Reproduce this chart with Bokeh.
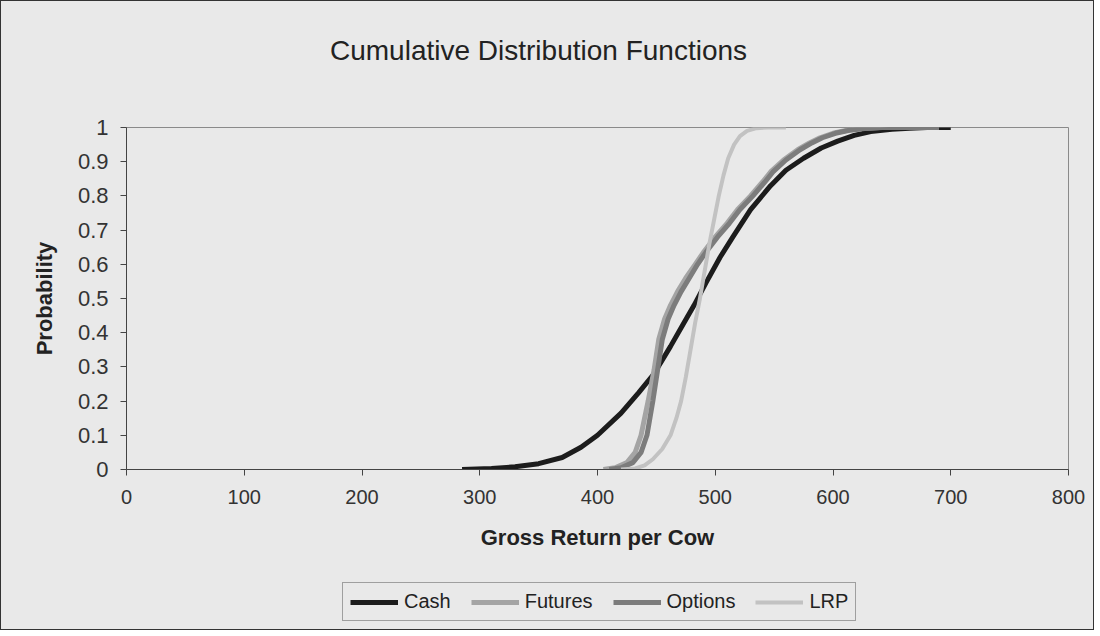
from bokeh.plotting import figure
from bokeh.layouts import column
from bokeh.models import Range1d, FixedTicker, CustomJSTickFormatter, Legend, LegendItem, Label
from bokeh.embed import file_html
from bokeh.resources import INLINE

# ---- data ----
cash_x = [285, 310, 330, 350, 370, 386, 400, 420, 435, 448, 462, 472, 482, 492, 504, 515, 530, 547, 560, 575, 590, 604, 618, 632, 650, 665, 680, 700]
cash_y = [0, 0.003, 0.008, 0.017, 0.035, 0.065, 0.1, 0.165, 0.225, 0.28, 0.36, 0.42, 0.48, 0.545, 0.62, 0.68, 0.76, 0.83, 0.875, 0.91, 0.94, 0.96, 0.977, 0.988, 0.995, 0.998, 1.0, 1.0]

futures_x = [405, 415, 425, 432, 437, 443, 448, 452, 457, 462, 468, 475, 483, 490, 500, 510, 519, 530, 540, 547, 558, 570, 580, 589, 600, 612, 625, 640, 660, 690]
futures_y = [0, 0.005, 0.02, 0.05, 0.1, 0.2, 0.29, 0.38, 0.44, 0.48, 0.52, 0.56, 0.6, 0.635, 0.68, 0.72, 0.76, 0.8, 0.84, 0.87, 0.905, 0.935, 0.955, 0.97, 0.983, 0.992, 0.997, 1.0, 1.0, 1.0]

options_x = [410, 420, 430, 437, 442, 447, 451, 455, 460, 465, 471, 478, 485, 492, 502, 512, 521, 532, 542, 549, 560, 572, 582, 591, 602, 614, 627, 642, 660, 690]
options_y = [0, 0.005, 0.02, 0.05, 0.1, 0.2, 0.29, 0.38, 0.44, 0.48, 0.52, 0.56, 0.6, 0.635, 0.68, 0.72, 0.76, 0.8, 0.84, 0.87, 0.905, 0.935, 0.955, 0.97, 0.983, 0.992, 0.997, 1.0, 1.0, 1.0]

lrp_x = [420, 432, 440, 447, 455, 462, 467, 471, 475, 479, 483, 487, 491, 495, 499, 503, 507, 511, 516, 521, 527, 535, 545, 560]
lrp_y = [0, 0.003, 0.012, 0.03, 0.06, 0.1, 0.15, 0.2, 0.27, 0.35, 0.43, 0.5, 0.58, 0.66, 0.73, 0.8, 0.86, 0.91, 0.95, 0.975, 0.99, 0.998, 1.0, 1.0]

series_names = ["Cash", "Futures", "Options", "LRP"]
x_ticks = [0, 100, 200, 300, 400, 500, 600, 700, 800]
y_ticks = [0, 0.1, 0.2, 0.3, 0.4, 0.5, 0.6, 0.7, 0.8, 0.9, 1.0]

FONT = "Liberation Sans"
BG = "#e9e9e9"
W = 1092
FRAME_W = 942
STYLES = [dict(line_color="#1c1c1c", line_width=5),
          dict(line_color="#a4a4a4", line_width=5),
          dict(line_color="#7c7c7c", line_width=5),
          dict(line_color="#c2c2c2", line_width=4)]
all_x = [cash_x, futures_x, options_x, lrp_x]
all_y = [cash_y, futures_y, options_y, lrp_y]


def blank(height, y0=0):
    # strip whose frame is aligned with the main chart's frame (column aligns frames)
    f = figure(width=W, height=height, x_range=Range1d(0, FRAME_W), y_range=Range1d(y0, y0 + height),
               x_axis_type=None, y_axis_type=None, toolbar_location=None,
               output_backend="svg", min_border=0)
    f.outline_line_color = None
    f.background_fill_color = BG
    f.border_fill_color = BG
    return f


# ---- title strip ----
p0 = blank(80)
p0.add_layout(Label(x=412, y=31, text="Cumulative Distribution Functions",
                    text_font=FONT, text_font_size="28px", text_color="#222222",
                    text_align="center", text_baseline="middle"))

# ---- main chart ----
p = figure(frame_width=FRAME_W, frame_height=342, output_backend="svg", toolbar_location=None,
           x_range=Range1d(0, 800), y_range=Range1d(0, 1),
           min_border_left=125, min_border_right=25, min_border_top=46, min_border_bottom=100)
p.background_fill_color = BG
p.border_fill_color = BG
p.outline_line_color = "#8a8a8a"
p.outline_line_width = 1
p.xgrid.visible = False
p.ygrid.visible = False
p.title.text = ""

for ax in (p.xaxis[0], p.yaxis[0]):
    ax.axis_line_color = "#444444"
    ax.major_tick_line_color = "#444444"
    ax.major_tick_out = 6
    ax.major_tick_in = 0
    ax.minor_tick_line_color = None
    ax.major_label_text_font = FONT
    ax.major_label_text_color = "#333333"
    ax.axis_label_text_font = FONT
    ax.axis_label_text_font_style = "bold"
    ax.axis_label_text_color = "#222222"

p.xaxis.ticker = FixedTicker(ticks=x_ticks)
p.yaxis.ticker = FixedTicker(ticks=y_ticks)
p.yaxis.formatter = CustomJSTickFormatter(code="return String(Math.round(tick*10)/10);")
p.xaxis.major_label_text_font_size = "20px"
p.yaxis.major_label_text_font_size = "22px"
p.xaxis.major_label_standoff = 14
p.yaxis.major_label_standoff = 12
p.xaxis.axis_label = "Gross Return per Cow"
p.yaxis.axis_label = "Probability"
p.xaxis.axis_label_text_font_size = "22px"
p.yaxis.axis_label_text_font_size = "22px"
p.xaxis.axis_label_standoff = 18
p.yaxis.axis_label_standoff = 18

for xs, ys, st in zip(all_x, all_y, STYLES):
    p.line(xs, ys, **st)

# ---- legend strip: same series drawn out of view, used only as legend keys ----
p2 = blank(60, y0=100)
proxies = [p2.line(xs, ys, **st) for xs, ys, st in zip(all_x, all_y, STYLES)]
legend = Legend(items=[LegendItem(label=n, renderers=[r]) for n, r in zip(series_names, proxies)],
                orientation="horizontal", location=(216, 8))
legend.label_text_font = FONT
legend.label_text_font_size = "20px"
legend.label_text_color = "#222222"
legend.glyph_width = 48
legend.label_standoff = 6
legend.spacing = 20
legend.padding = 7
legend.margin = 0
legend.border_line_color = "#555555"
legend.background_fill_color = BG
legend.background_fill_alpha = 1
p2.add_layout(legend)

layout = column(p0, p, p2, spacing=0,
                styles={"border": "1px solid #333333", "background-color": BG})

open("out.html", "w").write(file_html(layout, INLINE))
